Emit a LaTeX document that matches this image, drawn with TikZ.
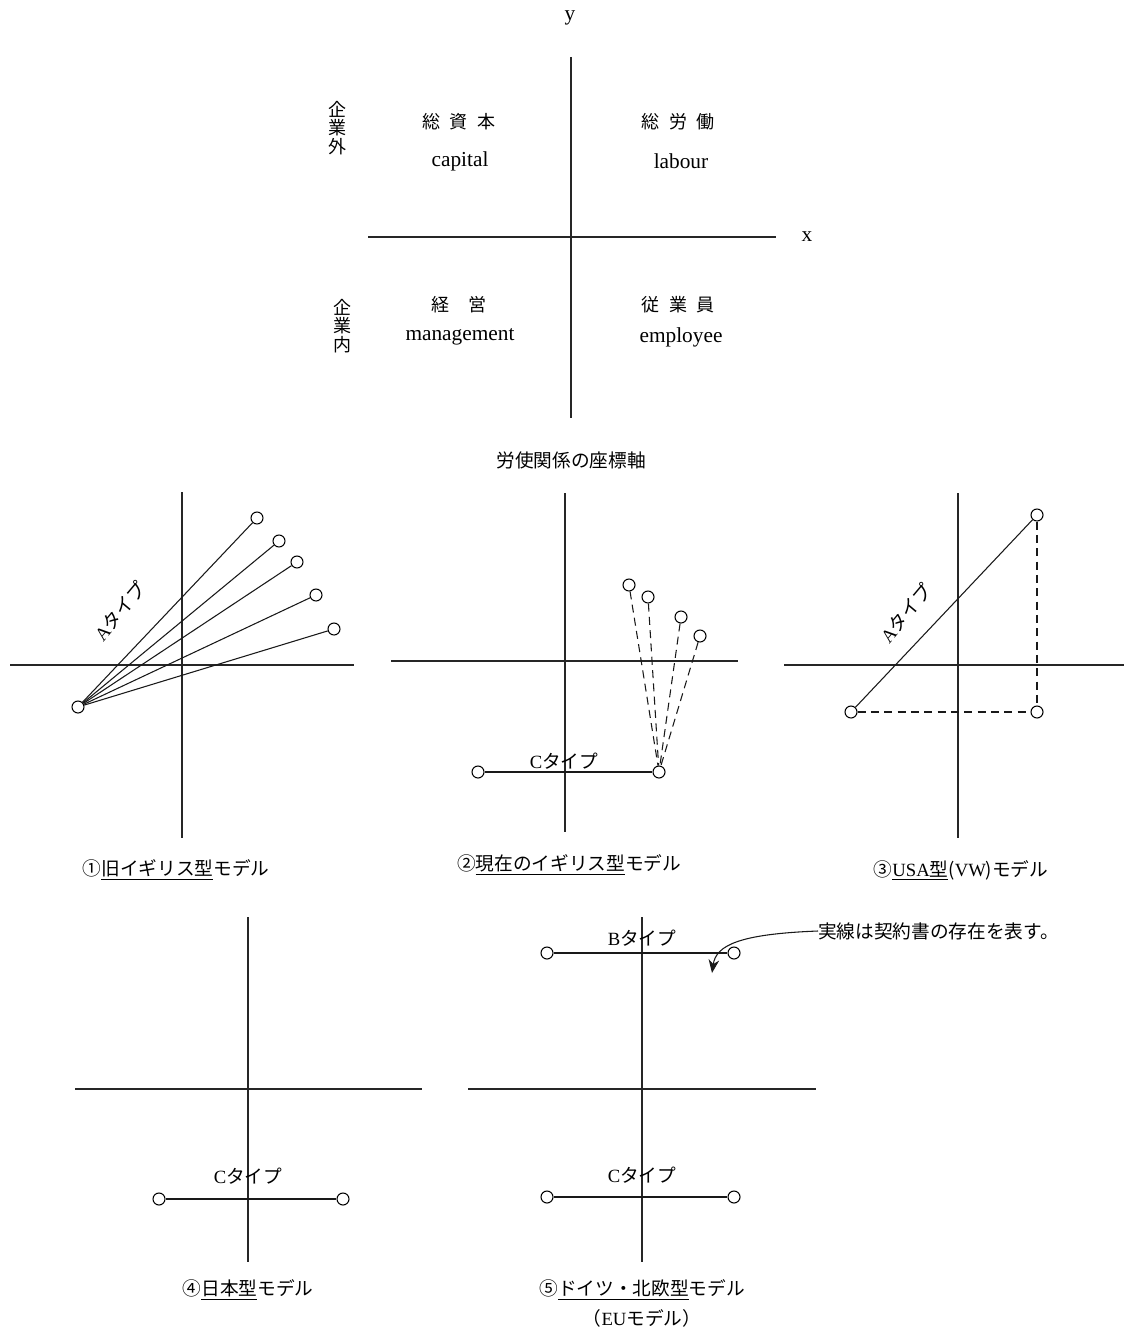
\documentclass[tikz,border=0pt]{standalone}
\usepackage{fontspec}
\setmainfont{Liberation Serif}
\newfontfamily\jp{Noto Sans CJK JP}
\usetikzlibrary{arrows.meta}
\newcommand{\J}[1]{{\jp #1}}
\tikzset{
  axis/.style={line width=1pt, black!85},
  link/.style={line width=0.8pt, black!90},
  dlink/.style={line width=0.8pt, black!90, dash pattern=on 6pt off 4pt},
  dot/.style={circle, draw, line width=0.8pt, fill=white, inner sep=0pt, minimum size=9pt},
  lat/.style={font=\fontsize{16}{19}\selectfont, inner sep=0pt},
  jpn/.style={font=\fontsize{13.5}{16}\selectfont\jp, inner sep=0pt},
  captxt/.style={font=\fontsize{14}{17}\selectfont, inner sep=0pt},
  vstack/.style={font=\fontsize{13.5}{14}\selectfont\jp, align=center, inner sep=0pt},
}
\begin{document}
\begin{tikzpicture}[x=0.75pt,y=-0.75pt]
\useasboundingbox (0,0) rectangle (1124,1330);

% ---------- top coordinate system ----------
\coordinate (ty1) at (571,57);  \coordinate (ty2) at (571,418);
\coordinate (tx1) at (368,237); \coordinate (tx2) at (776,237);
\draw[axis] (ty1) -- (ty2);
\draw[axis] (tx1) -- (tx2);
\node[lat] (ylab) at (570,18) {y};
\node[lat] (xlab) at (807,237) {x};
\node[jpn] (q1j) at (459,122) {総\hskip7pt 資\hskip7pt 本};
\node[lat] (q1e) at (460,161) {capital};
\node[jpn] (q2j) at (678,122) {総\hskip7pt 労\hskip7pt 働};
\node[lat] (q2e) at (681,161) {labour};
\node[jpn] (q3j) at (459,305) {経\hskip14pt 営};
\node[lat] (q3e) at (460,337) {management};
\node[jpn] (q4j) at (678,305) {従\hskip7pt 業\hskip7pt 員};
\node[lat] (q4e) at (681,337) {employee};
\node[vstack] (out) at (337,128) {企\\業\\外};
\node[vstack] (in) at (342,326) {企\\業\\内};
\node[captxt] (title) at (571,460) {\J{労使関係の座標軸}};

% ---------- panel 1 ----------
\draw[axis] (182,492) coordinate (p1y1) -- (182,838) coordinate (p1y2);
\draw[axis] (10,665) coordinate (p1x1) -- (354,665) coordinate (p1x2);
\node[dot] (p1o) at (78,707) {};
\node[dot] (p1a) at (257,518) {};
\node[dot] (p1b) at (279,541) {};
\node[dot] (p1c) at (297,562) {};
\node[dot] (p1d) at (316,595) {};
\node[dot] (p1e) at (334,629) {};
\foreach \t in {p1a,p1b,p1c,p1d,p1e} \draw[link] (p1o) -- (\t);
\node[captxt, rotate=50] (p1lab) at (120,611) {A\J{タイプ}};
\node[captxt] (p1cap) at (176,870) {\J{①\underline{旧イギリス型}モデル}};

% ---------- panel 2 ----------
\draw[axis] (565,493) -- (565,832);
\draw[axis] (391,661) -- (738,661);
\node[dot] (p2l) at (478,772) {};
\node[dot] (p2r) at (659,772) {};
\draw[link] (p2l) -- (p2r);
\node[captxt] (p2lab) at (564,761) {C\J{タイプ}};
\node[dot] (p2a) at (629,585) {};
\node[dot] (p2b) at (648,597) {};
\node[dot] (p2c) at (681,617) {};
\node[dot] (p2d) at (700,636) {};
\foreach \t in {p2a,p2b,p2c,p2d} \draw[dlink] (\t) -- (p2r);
\node[captxt] (p2cap) at (569,865) {\J{②\underline{現在のイギリス型}モデル}};

% ---------- panel 3 ----------
\draw[axis] (958,493) -- (958,838);
\draw[axis] (784,665) -- (1124,665);
\node[dot] (p3a) at (851,712) {};
\node[dot] (p3b) at (1037,515) {};
\node[dot] (p3c) at (1037,712) {};
\draw[link] (p3a) -- (p3b);
\draw[dlink] (p3a) -- (p3c);
\draw[dlink] (p3b) -- (p3c);
\node[captxt, rotate=50] (p3lab) at (906,613) {A\J{タイプ}};
\node[captxt] (p3cap) at (961,870) {\J{③\underline{{\rmfamily USA}型}({\rmfamily VW})モデル}};

% ---------- panel 4 ----------
\draw[axis] (248,917) -- (248,1262);
\draw[axis] (75,1089) -- (422,1089);
\node[dot] (p4l) at (159,1199) {};
\node[dot] (p4r) at (343,1199) {};
\draw[link] (p4l) -- (p4r);
\node[captxt] (p4lab) at (248,1176) {C\J{タイプ}};
\node[captxt] (p4cap) at (248,1290) {\J{④\underline{日本型}モデル}};

% ---------- panel 5 ----------
\draw[axis] (642,917) -- (642,1262);
\draw[axis] (468,1089) -- (816,1089);
\node[dot] (p5bl) at (547,953) {};
\node[dot] (p5br) at (734,953) {};
\draw[link] (p5bl) -- (p5br);
\node[captxt] (p5blab) at (642,938) {B\J{タイプ}};
\node[dot] (p5cl) at (547,1197) {};
\node[dot] (p5cr) at (734,1197) {};
\draw[link] (p5cl) -- (p5cr);
\node[captxt] (p5clab) at (642,1175) {C\J{タイプ}};
\node[captxt] (p5cap) at (642,1290) {\J{⑤\underline{ドイツ・北欧型}モデル}};
\node[captxt] (p5cap2) at (642,1318) {\J{（}EU\J{モデル）}};

% ---------- note ----------
\node[captxt, anchor=west] (note) at (818,931) {\J{実線は契約書の存在を表す。}};
\coordinate (tip) at (712,973);
\draw[link, -{Stealth[length=10pt,width=8pt]}] (note.west) .. controls (740,934) and (716,945) .. (tip);
\end{tikzpicture}
\end{document}
